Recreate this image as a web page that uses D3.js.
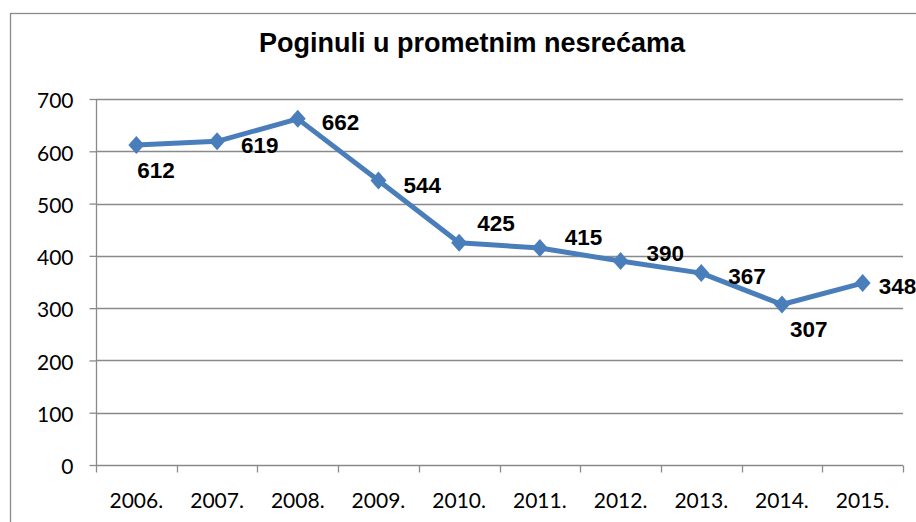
<!DOCTYPE html>
<html><head><meta charset="utf-8">
<script src="https://cdn.jsdelivr.net/npm/d3@7"></script>
<style>body{margin:0;background:#fff}svg{display:block}</style>
</head><body><svg id="c" width="916" height="522"></svg>
<script>
const title = "Poginuli u prometnim nesrećama";
const years = ["2006.","2007.","2008.","2009.","2010.","2011.","2012.","2013.","2014.","2015."];
const deaths = [612,619,662,544,425,415,390,367,307,348];
const yTicks = [0,100,200,300,400,500,600,700];
// label offsets from each point (presentation only)
const labelOffsets = [[1,33],[24,12],[24,11],[25,12],[18,-12],[25,-3],[26,0],[27,11],[8,33],[16,11]];

const svg = d3.select("#c");
const W = 916, H = 522;
const m = {left:96, right:13, top:99, bottom:57};
svg.append("rect").attr("x",10.5).attr("y",13.5).attr("width",940).attr("height",560)
  .attr("fill","#fff").attr("stroke","#8c8c8c").attr("stroke-width",1.3);

const x = d3.scaleBand().domain(years).range([m.left, W-m.right]);
const y = d3.scaleLinear().domain([0,700]).range([H-m.bottom, m.top]);

svg.append("text").attr("x",472).attr("y",52).attr("text-anchor","middle")
  .attr("font-family","Liberation Sans, Arial").attr("font-weight","bold").attr("font-size",27)
  .text(title);

// grid
svg.append("g").selectAll("line").data(yTicks.filter(d=>d>0)).join("line")
  .attr("x1",m.left).attr("x2",W-m.right).attr("y1",d=>Math.round(y(d))+0.5).attr("y2",d=>Math.round(y(d))+0.5)
  .attr("stroke","#8a8a8a").attr("stroke-width",1.3);

const tickFont = "Lato, 'Open Sans', sans-serif";
const yAxis = d3.axisLeft(y).tickValues(yTicks).tickSize(7).tickPadding(16);
const gy = svg.append("g").attr("transform",`translate(${m.left+0.5},0)`).call(yAxis);
gy.selectAll("line,path").attr("stroke","#8a8a8a").attr("stroke-width",1.3);
gy.select(".domain").attr("d",`M0,${y(700)}V${y(0)}`);
gy.selectAll("text").attr("font-family",tickFont).attr("font-size",21).attr("fill","#000").attr("dy","0.42em");

const xAxis = d3.axisBottom(x).tickSize(0).tickPadding(28);
const gx = svg.append("g").attr("transform",`translate(0,${Math.round(y(0))+0.5})`).call(xAxis);
gx.select(".domain").attr("d",`M${m.left},0H${W-m.right}`).attr("stroke","#8a8a8a").attr("stroke-width",1.3);
gx.selectAll("text").attr("font-family",tickFont).attr("font-size",21).attr("fill","#000");
// category boundary ticks
const bounds = years.map(d=>x(d)).concat([W-m.right]);
gx.append("g").selectAll("line").data(bounds).join("line")
  .attr("x1",d=>Math.round(d)+0.5).attr("x2",d=>Math.round(d)+0.5).attr("y1",0).attr("y2",7)
  .attr("stroke","#8a8a8a").attr("stroke-width",1.3);

const cx = d=>x(d)+x.bandwidth()/2;
const line = d3.line().x((d,i)=>cx(years[i])).y(d=>y(d));
svg.append("path").datum(deaths).attr("d",line).attr("fill","none")
  .attr("stroke","#4a7ebb").attr("stroke-width",5).attr("stroke-linejoin","round");

svg.append("g").selectAll("path").data(deaths).join("path")
  .attr("transform",(d,i)=>`translate(${cx(years[i])},${y(d)})`)
  .attr("d","M0,-9L8,0L0,9L-8,0Z").attr("fill","#4a7ebb");

svg.append("g").selectAll("text").data(deaths).join("text")
  .attr("x",(d,i)=>cx(years[i])+labelOffsets[i][0])
  .attr("y",(d,i)=>y(d)+labelOffsets[i][1])
  .attr("font-family","Liberation Sans, Arial").attr("font-weight","bold").attr("font-size",22.5)
  .text(d=>d);
</script></body></html>
